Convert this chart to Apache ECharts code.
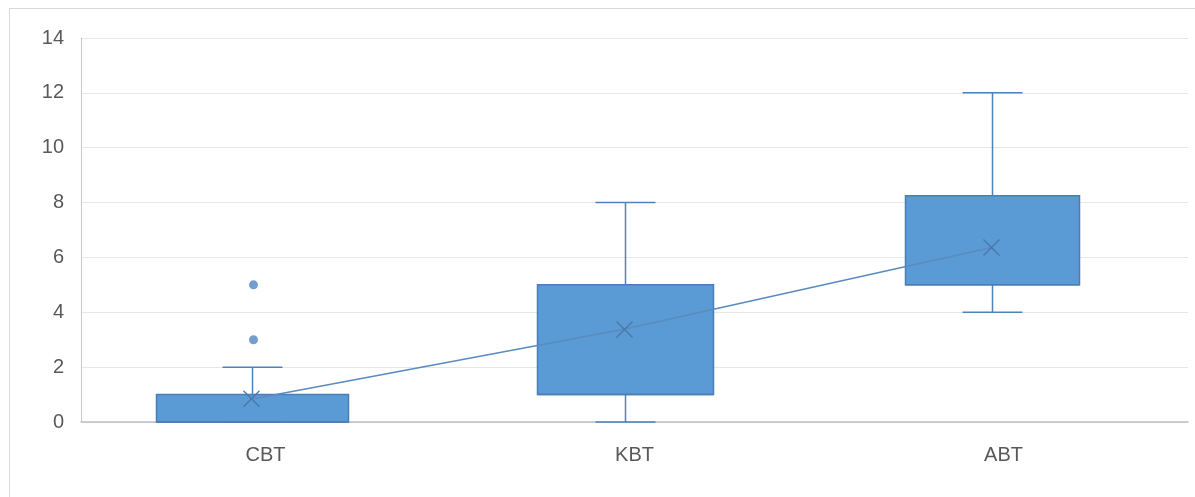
<!DOCTYPE html>
<html>
<head>
<meta charset="utf-8">
<script src="https://cdn.jsdelivr.net/npm/echarts@6/dist/echarts.min.js"></script>
<style>
html,body{margin:0;padding:0;background:#fff;}
#frame{position:absolute;left:9px;top:8px;width:1300px;height:600px;border-top:1px solid #d9d9d9;border-left:1px solid #d9d9d9;}
#chart{position:absolute;left:0;top:0;width:1195px;height:497px;}
</style>
</head>
<body>
<div id="frame"></div>
<div id="chart"></div>
<script>
// ---- data ----
var categories = ['CBT', 'KBT', 'ABT'];
var mins    = [0, 0, 4];
var q1s     = [0, 1, 5];
var medians = [0, 1, 5];
var q3s     = [1, 5, 8.25];
var maxs    = [2, 8, 12];
var means   = [0.85, 3.37, 6.36];
var outlierCategory = [0, 0];
var outlierValues   = [3, 5];
var yTicks = [0, 2, 4, 6, 8, 10, 12, 14];

var boxData = categories.map(function (c, i) {
  return [i, mins[i], q1s[i], medians[i], q3s[i], maxs[i]];
});
var meanData = categories.map(function (c, i) { return [i, means[i]]; });
var outlierData = outlierValues.map(function (v, i) { return [outlierCategory[i], v]; });

// ---- style ----
var BOX_FILL = '#5b9bd5', BOX_EDGE = '#4a7eb6', WHISK = '#5082ba';
var BOX_WIDTHS = [192, 176, 174], CAP_W = 60;
var BOX_SHIFT = [-2, 2, 0];

var chart = echarts.init(document.getElementById('chart'));
var font = 'Liberation Sans, Arial, sans-serif';

function renderBox(params, api) {
  var x = api.value(0);
  var i = params.dataIndex;
  var pMin = api.coord([x, api.value(1)]);
  var pQ1 = api.coord([x, api.value(2)]);
  var pMed = api.coord([x, api.value(3)]);
  var pQ3 = api.coord([x, api.value(4)]);
  var pMax = api.coord([x, api.value(5)]);
  var cx = Math.round(pQ1[0] + BOX_SHIFT[i]) + 0.5;
  var bw = BOX_WIDTHS[i];
  var lineStyle = {stroke: WHISK, lineWidth: 1.5, fill: null};
  return {
    type: 'group',
    children: [
      {type: 'line', shape: {x1: cx, y1: pQ3[1], x2: cx, y2: pMax[1]}, style: lineStyle},
      {type: 'line', shape: {x1: cx, y1: pQ1[1], x2: cx, y2: pMin[1]}, style: lineStyle},
      {type: 'line', shape: {x1: cx - CAP_W / 2, y1: pMax[1], x2: cx + CAP_W / 2, y2: pMax[1]}, style: lineStyle},
      {type: 'line', shape: {x1: cx - CAP_W / 2, y1: pMin[1], x2: cx + CAP_W / 2, y2: pMin[1]}, style: lineStyle},
      {type: 'rect', shape: {x: cx - bw / 2, y: pQ3[1], width: bw, height: pQ1[1] - pQ3[1]},
        style: {fill: BOX_FILL, stroke: BOX_EDGE, lineWidth: 1.5}},
      {type: 'line', shape: {x1: cx - bw / 2, y1: pMed[1], x2: cx + bw / 2, y2: pMed[1]},
        style: {stroke: BOX_EDGE, lineWidth: 1.5}}
    ]
  };
}

function renderX(params, api) {
  var p = api.coord([api.value(0), api.value(1)]);
  p[0] += BOX_SHIFT[params.dataIndex];
  var s = 8;
  var st = {stroke: '#4777a8', lineWidth: 1.3, fill: null};
  return {
    type: 'group',
    children: [
      {type: 'line', shape: {x1: p[0] - s, y1: p[1] - s, x2: p[0] + s, y2: p[1] + s}, style: st},
      {type: 'line', shape: {x1: p[0] - s, y1: p[1] + s, x2: p[0] + s, y2: p[1] - s}, style: st}
    ]
  };
}

var option = {
  animation: false,
  grid: [
    {left: 81, right: 7, top: 38, bottom: 75},
    {left: 69, right: 19, top: 38, bottom: 75}
  ],
  xAxis: [
    {
      type: 'category', gridIndex: 0, data: categories,
      axisLine: {lineStyle: {color: '#bfbfbf', width: 1.5}},
      axisTick: {show: false},
      axisLabel: {color: '#595959', fontSize: 20, fontFamily: font, margin: 23}
    },
    {
      type: 'category', gridIndex: 1, data: categories, show: false
    }
  ],
  yAxis: [
    {
      type: 'value', gridIndex: 0, min: 0, max: 14, interval: 2,
      axisLine: {show: true, lineStyle: {color: '#c8c8c8', width: 1}},
      axisTick: {show: false},
      splitLine: {lineStyle: {color: '#e6e6e6', width: 1}},
      axisLabel: {color: '#595959', fontSize: 20, fontFamily: font, margin: 17,
        formatter: function (v) { return yTicks.indexOf(v) >= 0 ? String(v) : ''; }}
    },
    {
      type: 'value', gridIndex: 1, min: 0, max: 14, interval: 2, show: false,
      splitLine: {show: false}
    }
  ],
  series: [
    {
      type: 'custom', xAxisIndex: 1, yAxisIndex: 1, z: 2,
      renderItem: renderBox,
      encode: {x: 0, y: [1, 2, 3, 4, 5]},
      data: boxData
    },
    {
      type: 'line', xAxisIndex: 1, yAxisIndex: 1, z: 3,
      data: meanData, symbol: 'none',
      lineStyle: {color: '#5a8bbf', width: 1.6}
    },
    {
      type: 'custom', xAxisIndex: 1, yAxisIndex: 1, z: 4,
      renderItem: renderX,
      encode: {x: 0, y: 1},
      data: meanData
    },
    {
      type: 'scatter', xAxisIndex: 1, yAxisIndex: 1, z: 5,
      data: outlierData, symbolSize: 9,
      itemStyle: {color: '#4f87c2'}
    }
  ]
};
chart.setOption(option);
</script>
</body>
</html>
